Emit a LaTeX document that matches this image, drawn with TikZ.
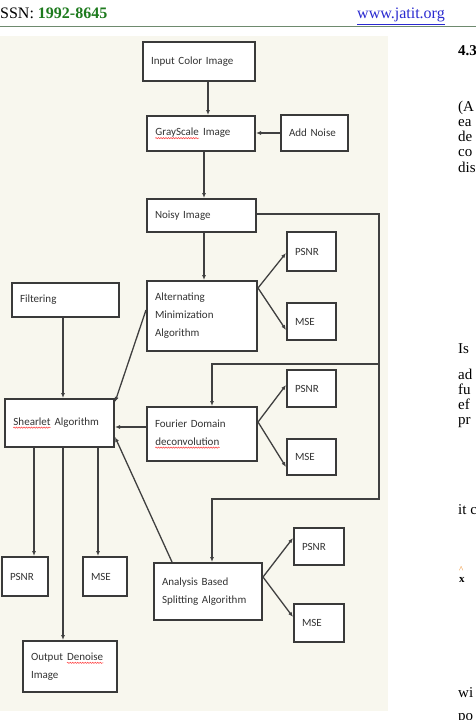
\documentclass[tikz,border=0pt]{standalone}
\usepackage{fontspec}
\setmainfont{Liberation Serif}
\newfontfamily\diagfont{Carlito}
\usetikzlibrary{arrows.meta,decorations.pathmorphing}
\definecolor{boxc}{HTML}{3A3A3A}
\definecolor{linec}{HTML}{404040}
\definecolor{txtc}{HTML}{333333}
\definecolor{bgc}{HTML}{F8F7EE}
\definecolor{issng}{HTML}{1E7B1E}
\definecolor{urlc}{HTML}{2A2AD0}
\definecolor{hdrline}{HTML}{6E8A6E}
\newcommand\spellmark[1]{\tikz[baseline=(sw.base)]{\node[inner sep=0pt, anchor=base west, text=txtc, text width={}, align=none, draw=none, fill=none, minimum width=0pt, minimum height=0pt] (sw) {#1}; \draw[red!75, line width=0.5pt, decorate, decoration={snake, amplitude=0.6pt, segment length=2.5pt}] ([yshift=-2.5pt]sw.base west) -- ([yshift=-2.5pt]sw.base east);}}
\tikzset{
  box/.style={draw=boxc, line width=2pt, fill=white,
    font=\diagfont\fontsize{11}{18}\selectfont, text=txtc,
    align=left, inner xsep=8pt, inner ysep=2pt, anchor=center},
  arr/.style={draw=linec, line width=1.3pt, -{Latex[length=5pt,width=4pt]}},
  coltext/.style={anchor=base west, inner sep=0pt, font=\fontsize{15}{15}\selectfont, text=black},
  hdrtext/.style={anchor=base west, inner sep=0pt, font=\fontsize{16}{16}\selectfont}
}
\newcommand\bx[7]{\node[box, minimum width=#4pt, minimum height=#5pt, text width=#6pt] (#1) at (#2,#3) {#7};}
\begin{document}
\begin{tikzpicture}[x=1pt, y=-1pt]
\useasboundingbox (0,0) rectangle (476,720);
\fill[white] (0,0) rectangle (476,720);
\fill[bgc] (0,36) rectangle (388,711);

% header
\node[hdrtext] (issn) at (0,19) {SSN: \textcolor{issng}{\textbf{1992-8645}}};
\node[hdrtext, text=urlc] (url) at (357,19) {\underline{www.jatit.org}};
\draw[hdrline, line width=0.8pt] (0,26) -- (476,26);

% right column fragments
\node[coltext] (c1) at (458,55) {\textbf{4.3}};
\node[coltext] (c2) at (458,111) {(A};
\node[coltext] (c3) at (458,126) {ea};
\node[coltext] (c4) at (458,141) {de};
\node[coltext] (c5) at (458,156) {co};
\node[coltext] (c6) at (458,172) {dis};
\node[coltext] (c7) at (458,353) {Is};
\node[coltext] (c8) at (458,379) {ad};
\node[coltext] (c9) at (458,394) {fu};
\node[coltext] (c10) at (458,409) {ef};
\node[coltext] (c11) at (458,424) {pr};
\node[coltext] (c12) at (458,514) {it c};
\node[coltext, font=\fontsize{11}{11}\selectfont] (c13) at (459,582) {\textbf{x}};
\node[coltext, font=\fontsize{9}{9}\selectfont, text=orange!70!brown] (c14) at (459,572) {\^{}};
\node[coltext] (c15) at (458,697) {wi};
\node[coltext] (c16) at (458,720) {po};

% boxes
\bx{inp}{199}{61.5}{112}{39}{96}{Input Color Image}
\bx{gray}{201}{133.5}{108}{35}{92}{\spellmark{GrayScale} Image}
\bx{noise}{314.5}{133}{67}{36}{51}{Add Noise}
\bx{noisy}{201.5}{215.5}{109}{33}{93}{Noisy Image}
\bx{psnrA}{311.5}{251.5}{49}{39}{33}{PSNR}
\bx{mseA}{311.5}{321.5}{49}{37}{33}{MSE}
\bx{alt}{202}{316}{110}{70}{94}{Alternating\\Minimization\\Algorithm}
\bx{filt}{65.5}{300}{107}{34}{91}{Filtering}
\bx{shear}{59.5}{423}{109}{48}{93}{\spellmark{Shearlet} Algorithm}
\bx{four}{202}{434}{110}{54}{94}{Fourier Domain\\\spellmark{deconvolution}}
\bx{psnrB}{311.5}{388.5}{49}{37}{33}{PSNR}
\bx{mseB}{311.5}{457}{49}{36}{33}{MSE}
\bx{psnrC}{25}{576.5}{46}{39}{30}{PSNR}
\bx{mseC}{105}{576.5}{44}{39}{28}{MSE}
\bx{out}{70}{666.5}{94}{51}{78}{Output \spellmark{Denoise}\\Image}
\bx{ana}{208}{591.5}{108}{57}{92}{Analysis Based\\Splitting Algorithm}
\bx{psnrD}{319}{546.5}{50}{37}{34}{PSNR}
\bx{mseD}{319}{623}{50}{38}{34}{MSE}

% connectors
\draw[arr] ([xshift=9pt]inp.south) -- ([xshift=9pt]inp.south |- gray.north);
\draw[arr] ([xshift=3pt]gray.south) -- ([xshift=3pt]gray.south |- noisy.north);
\draw[arr] (noise.west) -- (noise.west -| gray.east);
\draw[arr] ([xshift=2.5pt]noisy.south) -- ([xshift=2.5pt]noisy.south |- alt.north);
\coordinate (busA) at (379,364);
\coordinate (busB) at (379,499);
\draw[arr] ([yshift=1.5pt]noisy.east) -| (busB) -| ([xshift=4pt]ana.north);
\draw[arr] (busA) -| ([xshift=10pt]four.north);

\draw[arr] ([yshift=28pt]alt.east) -- ([yshift=-1.5pt]psnrA.west);
\draw[arr] ([yshift=28pt]alt.east) -- ([yshift=-8.5pt]mseA.west);
\draw[arr] ([yshift=12pt]four.east) -- ([yshift=3.5pt]psnrB.west);
\draw[arr] ([yshift=12pt]four.east) -- ([yshift=-10pt]mseB.west);
\draw[arr] ([yshift=14.5pt]ana.east) -- ([yshift=8.5pt]psnrD.west);
\draw[arr] ([yshift=14.5pt]ana.east) -- ([yshift=6pt]mseD.west);

\draw[arr] ([xshift=-2.5pt]filt.south) -- ([xshift=-2.5pt]filt.south |- shear.north);
\draw[arr] ([yshift=6pt]alt.west) -- ([yshift=21pt]shear.east);
\draw[arr] ([yshift=7pt]four.west) -- ([yshift=7pt]four.west -| shear.east);
\draw[arr] ([xshift=-36pt]ana.north) -- ([yshift=-14pt]shear.east);

\draw[arr] ([xshift=-25.5pt]shear.south) -- ([xshift=-25.5pt]shear.south |- psnrC.north);
\draw[arr] ([xshift=3.5pt]shear.south) -- ([xshift=3.5pt]shear.south |- out.north);
\draw[arr] ([xshift=38.5pt]shear.south) -- ([xshift=38.5pt]shear.south |- mseC.north);
\end{tikzpicture}
\end{document}
